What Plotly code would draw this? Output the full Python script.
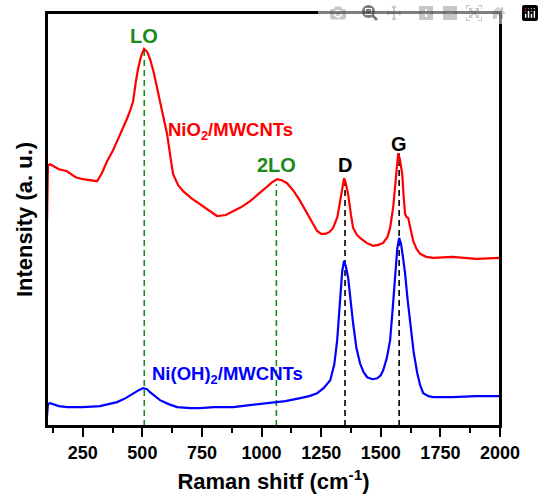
import plotly.graph_objects as go

# Red: NiO2/MWCNTs
red_x = [100, 104, 113, 150, 184, 220, 251, 280, 310, 330, 352, 375, 394, 415, 436, 450, 461, 472, 482, 495, 507, 520, 532, 548, 562, 584, 604, 618, 629, 650, 671, 705, 742, 780, 813, 850, 881, 915, 952, 990, 1023, 1045, 1065, 1085, 1107, 1135, 1162, 1200, 1233, 1250, 1267, 1285, 1300, 1318, 1330, 1340, 1346, 1352, 1363, 1375, 1384, 1400, 1413, 1440, 1468, 1490, 1510, 1528, 1539, 1552, 1560, 1567, 1573, 1580, 1590, 1596, 1602, 1608, 1615, 1625, 1636, 1650, 1665, 1690, 1720, 1800, 1900, 2000]
red_y = [206, 262, 263, 258, 256, 250, 248, 247, 246, 254, 266, 276, 286, 298, 309, 318, 326, 345, 359, 372, 379, 376, 369, 355, 339, 315, 293, 270, 253, 242, 236, 229, 223, 216, 211, 212, 216, 220, 226, 234, 241, 245, 248, 247, 244, 236, 226, 210, 196, 193, 193, 195, 199, 210, 226, 240, 249, 245, 233, 212, 199, 192, 189, 184, 181, 182, 184, 190, 199, 220, 243, 262, 274, 268, 253, 230, 213, 210, 209, 198, 186, 178, 173, 170, 169, 170, 168, 169]

# Blue: Ni(OH)2/MWCNTs
blue_x = [100, 104, 113, 150, 184, 250, 322, 360, 394, 430, 461, 485, 503, 520, 532, 552, 574, 610, 646, 700, 742, 800, 881, 950, 1023, 1100, 1162, 1200, 1233, 1260, 1288, 1305, 1317, 1325, 1330, 1338, 1346, 1354, 1363, 1373, 1384, 1398, 1413, 1428, 1443, 1465, 1485, 1500, 1510, 1525, 1539, 1550, 1560, 1569, 1577, 1585, 1594, 1602, 1612, 1623, 1638, 1653, 1665, 1678, 1700, 1720, 1800, 1900, 2000]
blue_y = [10, 22, 23, 20, 19, 19, 20, 22, 24, 28, 33, 36, 38, 37, 34, 30, 26, 22, 19, 18, 18, 19, 19, 21, 23, 25, 28, 30, 33, 38, 46, 62, 86, 115, 136, 155, 166, 160, 149, 126, 103, 78, 63, 54, 49, 47, 48, 51, 56, 68, 86, 118, 153, 178, 189, 183, 168, 153, 128, 103, 74, 53, 41, 33, 30, 29, 29, 30, 30]

x_ticks = [250, 500, 750, 1000, 1250, 1500, 1750, 2000]
x_minor = [125, 375, 625, 875, 1125, 1375, 1625, 1875]

peak_labels = ["LO", "2LO", "D", "G"]
peak_x = [508, 1062, 1350, 1577]
peak_top = [379, 243, 249, 274]
peak_label_y = [392, 262, 262, 283]
peak_colors = ["#1a8a1a", "#1a8a1a", "#000000", "#000000"]

fig = go.Figure()

for px_, top, col in zip(peak_x, peak_top, peak_colors):
    fig.add_trace(go.Scatter(x=[px_, px_], y=[0, top], mode="lines",
                             line=dict(color=col, width=1.6, dash="6px,4px"),
                             showlegend=False, hoverinfo="skip"))

fig.add_trace(go.Scatter(x=red_x, y=red_y, mode="lines",
                         line=dict(color="#ff0000", width=2.2), showlegend=False))
fig.add_trace(go.Scatter(x=blue_x, y=blue_y, mode="lines",
                         line=dict(color="#0000ff", width=2.2), showlegend=False))

for lab, px_, ly, col in zip(peak_labels, peak_x, peak_label_y, peak_colors):
    fig.add_annotation(x=px_, y=ly, text="<b>%s</b>" % lab, showarrow=False,
                       font=dict(size=20, color=col), yanchor="middle", xanchor="center")

fig.add_annotation(x=600, y=296, text="<b>NiO<sub>2</sub>/MWCNTs</b>", showarrow=False,
                   xanchor="left", yanchor="middle",
                   font=dict(size=18.5, color="#ff0000"))
fig.add_annotation(x=533, y=51, text="<b>Ni(OH)<sub>2</sub>/MWCNTs</b>", showarrow=False,
                   xanchor="left", yanchor="middle",
                   font=dict(size=18.5, color="#0000ff"))

# frame
fig.add_shape(type="rect", xref="paper", yref="paper", x0=0, y0=0, x1=1, y1=1,
              line=dict(color="black", width=2), layer="above")

fig.update_layout(
    width=544, height=501,
    margin=dict(l=47, r=44, t=11, b=75),
    plot_bgcolor="white", paper_bgcolor="white",
    font=dict(family="Liberation Sans, Arial, sans-serif", color="black"),
    xaxis=dict(range=[100, 2000], tickvals=x_ticks,
               ticktext=["<b>%d</b>" % v for v in x_ticks],
               ticks="outside", ticklen=9, tickwidth=2, tickcolor="black",
               minor=dict(ticks="outside", ticklen=5, tickwidth=2, tickcolor="black",
                          tickvals=x_minor),
               showline=True, linewidth=2, linecolor="black", mirror=True,
               showgrid=False, zeroline=False,
               tickfont=dict(size=18),
               title=dict(text="<b>Raman shitf (cm<sup>-1</sup>)</b>", font=dict(size=22), standoff=12)),
    yaxis=dict(range=[0, 415], showticklabels=False, ticks="",
               showline=True, linewidth=2, linecolor="black", mirror=True,
               showgrid=False, zeroline=False,
               title=dict(text="<b>Intensity (a. u.)</b>", font=dict(size=22), standoff=6)),
)

fig.write_html("out.html", post_script="document.body.style.margin='0';")
